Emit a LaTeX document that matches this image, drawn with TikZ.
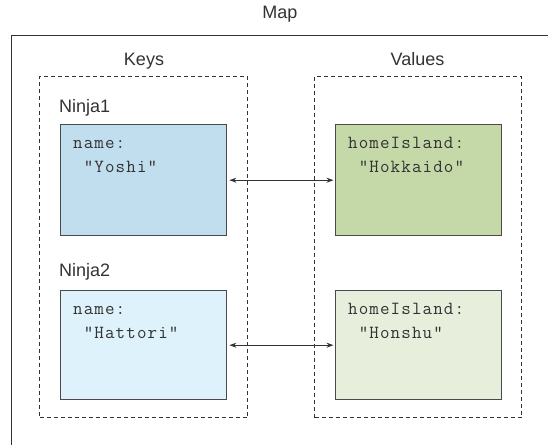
\documentclass[tikz,border=0pt]{standalone}
\usepackage{fontspec}
\setmainfont{Liberation Sans}
\newfontfamily\codefont[LetterSpace=6]{Latin Modern Mono}
\usetikzlibrary{arrows.meta}
\definecolor{ink}{HTML}{333333}
\definecolor{edge}{HTML}{4A4A4A}
\definecolor{blueA}{HTML}{C0DEEE}
\definecolor{blueB}{HTML}{DEF2FB}
\definecolor{greenA}{HTML}{C5D8A8}
\definecolor{greenB}{HTML}{E8EEDC}
\tikzset{
  lbl/.style={font=\fontsize{18}{22}\selectfont, text=ink, inner sep=0pt},
  code/.style={font=\codefont\fontsize{18.5}{24}\selectfont, text=ink, inner sep=0pt, align=left, anchor=north west},
  group/.style={draw=ink, line width=1pt, dash pattern=on 4pt off 3pt},
  entry/.style={draw=edge, line width=1.4pt, anchor=north west, minimum width=166pt, inner sep=0pt},
  link/.style={draw=ink, line width=1pt, {Stealth[length=7pt,width=5pt]}-{Stealth[length=7pt,width=5pt]}, shorten <=2pt, shorten >=1pt}
}
\begin{document}
\begin{tikzpicture}[x=1pt,y=-1pt]
\useasboundingbox (0,0) rectangle (548,444);
\clip (0,0) rectangle (548,444);
\fill[white] (0,0) rectangle (548,444);
% outer map frame
\draw[draw=ink, line width=1pt] (11,36) -- (11,460) (11,36) -- (560,36);
\node[lbl, anchor=base] (map) at (280,19) {Map};
% groups
\node[group, anchor=north west, minimum width=208pt, minimum height=341pt, inner sep=0pt] (keys) at (39,76) {};
\node[group, anchor=north west, minimum width=207pt, minimum height=341pt, inner sep=0pt] (vals) at (314,76) {};
\node[lbl, anchor=base] (keyslbl) at (144,66) {Keys};
\node[lbl, anchor=base] (valslbl) at (417.5,66) {Values};
\node[lbl, anchor=base west] (n1) at (59,112) {Ninja1};
\node[lbl, anchor=base west] (n2) at (59,276.7) {Ninja2};
% entries
\node[entry, fill=blueA, minimum height=111pt] (k1) at (60,124) {};
\node[entry, fill=blueB, minimum height=109pt] (k2) at (60,290) {};
\node[entry, fill=greenA, minimum height=111pt] (v1) at (334.5,124) {};
\node[entry, fill=greenB, minimum height=109pt] (v2) at (334.5,290) {};
\node[code] (k1t) at (73,131) {\strut name:\\\strut\ "Yoshi"};
\node[code] (k2t) at (73,297) {\strut name:\\\strut\ "Hattori"};
\node[code] (v1t) at (348,131) {\strut homeIsland:\\\strut\ "Hokkaido"};
\node[code] (v2t) at (348,297) {\strut homeIsland:\\\strut\ "Honshu"};
% links
\draw[link] (k1.east) -- (v1.west);
\draw[link] (k2.east) -- (v2.west);
\end{tikzpicture}
\end{document}
